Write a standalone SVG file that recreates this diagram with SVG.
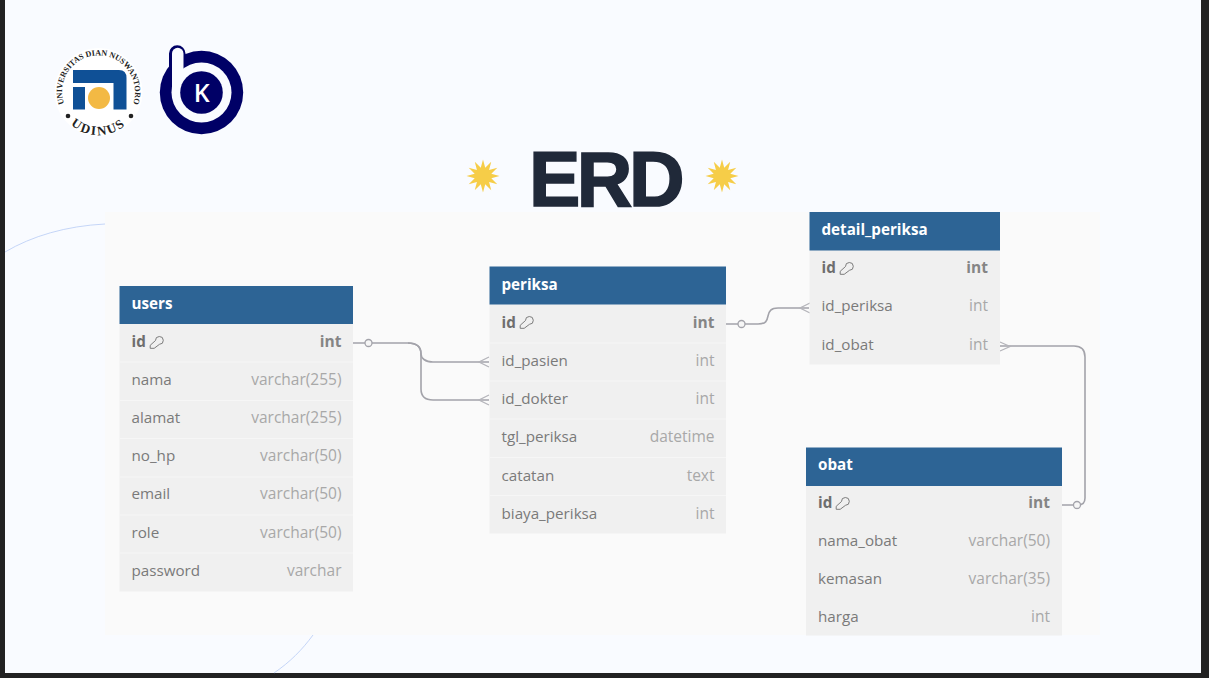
<svg xmlns="http://www.w3.org/2000/svg" xmlns:xlink="http://www.w3.org/1999/xlink" width="1209" height="678" viewBox="0 0 1209 678">
<style>
.hd{fill:#2d6495}
.bd{fill:#f0f0f0}
.sep{stroke:#f6f6f6;stroke-width:1}
text{font-family:"Open Sans","Noto Sans",sans-serif}
.t{font-size:15.2px;font-weight:700;fill:#fff}
.n{font-size:15.2px;fill:#7a7a7a}
.ty{font-size:15.5px;fill:#a8a8a8;text-anchor:end}
.pk{font-weight:700;fill:#6e6e6e}
.pt{font-weight:700;fill:#858585}
.c{fill:none;stroke:#a3a3aa;stroke-width:1.6}
.k{fill:none;stroke:#7c7c7c;stroke-width:1}
.o{fill:#f6f6f6;stroke:#a3a3aa;stroke-width:1.3}
.f{fill:none;stroke:#b4b4ba;stroke-width:1.3}
.arc{fill:none;stroke:#b8ccf5;stroke-width:.8}
.star{fill:#f6cd48}
.serif{font-family:"Liberation Serif",serif;font-weight:700;fill:#222}
</style>
<defs>
<g id="key"><path class="k" d="M-.5-1.500A3.900 3.900 0 1 1 3.500 2.300L-1.800 6.300H-5.800V3.300Z"/></g>
<polygon id="st" class="star" points="0,-16.500 2.230,-8.310 8.250,-14.300 6.080,-6.080 14.300,-8.250 8.310,-2.230 16.500,0 8.310,2.230 14.300,8.250 6.080,6.080 8.250,14.300 2.230,8.310 0,16.500 -2.230,8.310 -8.250,14.300 -6.080,6.080 -14.300,8.250 -8.310,2.230 -16.500,0 -8.310,-2.230 -14.300,-8.250 -6.080,-6.080 -8.250,-14.300 -2.230,-8.310"/>
<path id="ua" d="M65.200 106.800A36.500 36.500 0 1 1 131.800 106.800"/>
<path id="ub" d="M68 122A42 42 0 0 0 129 122"/>
</defs>
<rect width="1209" height="678" fill="#222222"/>
<rect x="5" y="0" width="1196" height="673" fill="#f9fbff"/>
<g id="arcs"><path class="arc" d="M5 252C32 236 66 226 105 224"/><path class="arc" d="M274 673C290 662 302 650 313 635"/></g>
<rect id="canvas" x="105" y="212" width="995" height="423" fill="#fafafa"/>

<g id="logo-udinus">
<circle cx="98.500" cy="92" r="44" fill="#fff"/>
<path fill="#0f5096" d="M73 70H119Q126.500 70 126.500 78V109.500H113.500V83H73Z"/>
<rect x="73" y="87" width="12" height="22.500" fill="#0f5096"/>
<circle cx="99" cy="98" r="11" fill="#f3b944"/>
<text class="serif" font-size="8.100"><textPath href="#ua" xlink:href="#ua" startOffset="50%" text-anchor="middle">UNIVERSITAS DIAN NUSWANTORO</textPath></text>
<text class="serif" font-size="13" letter-spacing="1.800"><textPath href="#ub" xlink:href="#ub" startOffset="50%" text-anchor="middle">UDINUS</textPath></text>
<circle cx="68" cy="116" r="2.300" fill="#222"/><circle cx="131" cy="116" r="2.300" fill="#222"/>
</g>
<g id="logo-bk">
<circle cx="201.500" cy="92.500" r="41.700" fill="#000066"/>
<path d="M169 70V53.500A8.250 8.250 0 0 1 185.500 53.500V70Z" fill="#000066"/>
<circle cx="201.500" cy="92.500" r="30" fill="#f9fbff"/>
<path d="M172 92V53.500A5.750 5.750 0 0 1 183.500 53.500V92Z" fill="#f9fbff"/>
<circle cx="201.500" cy="92.500" r="21.300" fill="#000066"/>
<text x="201.800" y="102" text-anchor="middle" style="font-size:25px;font-weight:600;fill:#fff">K</text>
</g>
<g id="title">
<use href="#st" xlink:href="#st" x="483" y="176"/><use href="#st" xlink:href="#st" x="722" y="176"/>
<text x="605" y="206" text-anchor="middle" style="font-family:'Liberation Sans',Arial,sans-serif;font-size:77px;font-weight:700;fill:#202939;letter-spacing:-3.500px;stroke:#202939;stroke-width:1.500px">ERD</text>
</g>

<g id="connectors">
<path class="c" d="M353 343H408C417 343 421 347 421 354V389C421 396 425 400 433 400H489"/>
<path class="c" d="M408 343C417 343 421 347 421 354C421 358 425 362 433 362H489"/>
<path class="f" d="M489 357 479 362 489 367M489 395 479 400 489 405"/>
<circle class="o" cx="368.500" cy="343" r="3.500"/>
<path class="c" d="M726 324H758C766 324 767 321 768 316C769 311 771 308 778 308H809"/>
<path class="f" d="M810 303 800 308 810 313"/>
<circle class="o" cx="741.500" cy="324" r="3.500"/>
<path class="c" d="M1000 346H1074C1081 346 1085 350 1085 357V498C1085 503 1083 505 1078 505H1062"/>
<path class="f" d="M1000 342 1010 346.500 1000 351"/>
<circle class="o" cx="1077" cy="505" r="3.500"/>
</g>

<g id="users">
<rect class="bd" x="119.500" y="324" width="233.500" height="267.500"/>
<rect class="hd" x="119.500" y="286" width="233.500" height="38"/>
<path class="sep" d="M120 362H353M120 400.500H353M120 438.500H353M120 477H353M120 515H353M120 553H353"/>
<text class="t" x="131.500" y="309">users</text>
<text class="n pk" x="131.500" y="347">id</text><use href="#key" xlink:href="#key" x="156" y="342"/><text class="ty pt" x="341.500" y="347">int</text>
<text class="n" x="131.500" y="385">nama</text><text class="ty" x="341.500" y="385">varchar(255)</text>
<text class="n" x="131.500" y="423">alamat</text><text class="ty" x="341.500" y="423">varchar(255)</text>
<text class="n" x="131.500" y="461">no_hp</text><text class="ty" x="341.500" y="461">varchar(50)</text>
<text class="n" x="131.500" y="499">email</text><text class="ty" x="341.500" y="499">varchar(50)</text>
<text class="n" x="131.500" y="538">role</text><text class="ty" x="341.500" y="538">varchar(50)</text>
<text class="n" x="131.500" y="576">password</text><text class="ty" x="341.500" y="576">varchar</text>
</g>
<g id="periksa">
<rect class="bd" x="489.500" y="304" width="236.500" height="229.500"/>
<rect class="hd" x="489.500" y="266.500" width="236.500" height="38"/>
<path class="sep" d="M490 343H726M490 381H726M490 419H726M490 457.500H726M490 495.500H726"/>
<text class="t" x="501.500" y="290">periksa</text>
<text class="n pk" x="501.500" y="328">id</text><use href="#key" xlink:href="#key" x="526" y="322"/><text class="ty pt" x="714.500" y="328">int</text>
<text class="n" x="501.500" y="366">id_pasien</text><text class="ty" x="714.500" y="366">int</text>
<text class="n" x="501.500" y="404">id_dokter</text><text class="ty" x="714.500" y="404">int</text>
<text class="n" x="501.500" y="442">tgl_periksa</text><text class="ty" x="714.500" y="442">datetime</text>
<text class="n" x="501.500" y="481">catatan</text><text class="ty" x="714.500" y="481">text</text>
<text class="n" x="501.500" y="519">biaya_periksa</text><text class="ty" x="714.500" y="519">int</text>
</g>
<g id="detail_periksa">
<rect class="bd" x="809.500" y="250" width="190.500" height="114.500"/>
<rect class="hd" x="809.500" y="212" width="190.500" height="38.500"/>
<text class="t" x="821.500" y="235">detail_periksa</text>
<text class="n pk" x="821.500" y="273">id</text><use href="#key" xlink:href="#key" x="846" y="268"/><text class="ty pt" x="988" y="273">int</text>
<text class="n" x="821.500" y="311">id_periksa</text><text class="ty" x="988" y="311">int</text>
<text class="n" x="821.500" y="350">id_obat</text><text class="ty" x="988" y="350">int</text>
</g>
<g id="obat">
<rect class="bd" x="806" y="485.500" width="256" height="150"/>
<rect class="hd" x="806" y="447.500" width="256" height="38.500"/>
<text class="t" x="818" y="470">obat</text>
<text class="n pk" x="818" y="508">id</text><use href="#key" xlink:href="#key" x="842" y="503"/><text class="ty pt" x="1050" y="508">int</text>
<text class="n" x="818" y="546">nama_obat</text><text class="ty" x="1050" y="546">varchar(50)</text>
<text class="n" x="818" y="584">kemasan</text><text class="ty" x="1050" y="584">varchar(35)</text>
<text class="n" x="818" y="622">harga</text><text class="ty" x="1050" y="622">int</text>
</g>
</svg>
